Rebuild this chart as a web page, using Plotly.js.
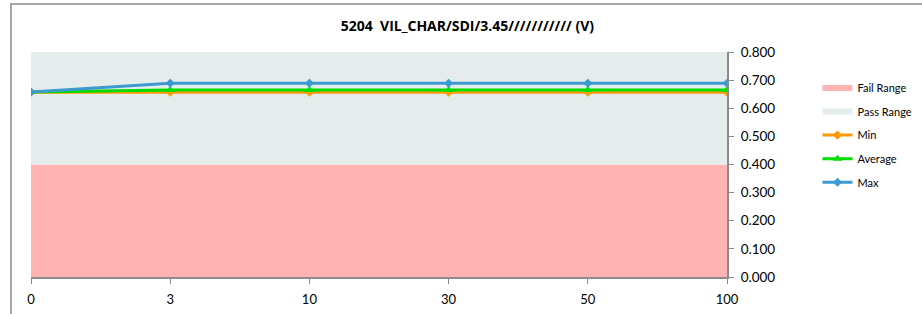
<!DOCTYPE html>
<html>
<head>
<meta charset="utf-8">
<script src="https://cdn.plot.ly/plotly-3.0.1.min.js"></script>
<style>
html,body{margin:0;padding:0;background:#fff;}
#frame{position:absolute;left:10px;top:3px;width:940px;height:340px;border-left:2px solid #A6A6A6;border-top:2px solid #A6A6A6;box-sizing:border-box;}
#chart{position:absolute;left:0;top:0;width:922px;height:314px;}
</style>
</head>
<body>
<div id="frame"></div>
<div id="chart"></div>
<script>
var categories = ['0', '3', '10', '30', '50', '100'];
var failRange = [0.4, 0.4, 0.4, 0.4, 0.4, 0.4];
var passRange = [0.4, 0.4, 0.4, 0.4, 0.4, 0.4];
var minVals = [0.657, 0.657, 0.657, 0.657, 0.657, 0.657];
var avgVals = [0.658, 0.665, 0.665, 0.665, 0.665, 0.665];
var maxVals = [0.658, 0.689, 0.689, 0.689, 0.689, 0.689];
var yTicks = [0, 0.1, 0.2, 0.3, 0.4, 0.5, 0.6, 0.7, 0.8];
var titleText = '5204  VIL_CHAR/SDI/3.45/////////// (V)';

var font = 'Lato, "Open Sans", "Liberation Sans", sans-serif';
var titleFont = '"Open Sans", Lato, sans-serif';

var traces = [
  {x: categories, y: failRange, name: 'Fail Range', type: 'scatter', mode: 'none',
   stackgroup: 'range', fillcolor: '#FFB3B3', legendgroup: 'a', hoverinfo: 'skip'},
  {x: categories, y: passRange, name: 'Pass Range', type: 'scatter', mode: 'none',
   stackgroup: 'range', fillcolor: '#E5ECEC', legendgroup: 'b', hoverinfo: 'skip'},
  {x: categories, y: minVals, name: 'Min', type: 'scatter', mode: 'lines+markers',
   line: {color: '#FF9900', width: 3}, marker: {symbol: 'diamond', size: 7, color: '#FF9900'}, legendgroup: 'c'},
  {x: categories, y: avgVals, name: 'Average', type: 'scatter', mode: 'lines+markers',
   line: {color: '#00DD00', width: 3}, marker: {symbol: 'triangle-up', size: 8, color: '#00DD00'}, legendgroup: 'd'},
  {x: categories, y: maxVals, name: 'Max', type: 'scatter', mode: 'lines+markers',
   line: {color: '#3C9AD0', width: 3}, marker: {symbol: 'diamond', size: 7, color: '#3C9AD0'}, legendgroup: 'e'}
];

var layout = {
  width: 922, height: 314,
  margin: {l: 31, r: 195, t: 52, b: 37, pad: 0, autoexpand: false},
  paper_bgcolor: 'rgba(0,0,0,0)',
  plot_bgcolor: 'rgba(0,0,0,0)',
  font: {family: font, size: 13, color: '#000'},
  title: {text: '<b>' + titleText + '</b>', font: {family: titleFont, size: 14, color: '#000'},
          x: 0.507, xanchor: 'center', y: 0.918, yanchor: 'middle'},
  showlegend: true,
  legend: {x: 1.13, xanchor: 'left', y: 0.905, yanchor: 'top', font: {family: font, size: 11, color: '#000'},
           traceorder: 'grouped', tracegroupgap: 4.6, bgcolor: 'rgba(0,0,0,0)', itemwidth: 30},
  xaxis: {type: 'category', range: [0, 5], showgrid: false, zeroline: false,
          showline: true, linecolor: '#8C8C8C', linewidth: 2,
          ticks: 'outside', ticklen: 5, tickcolor: '#8C8C8C', tickwidth: 1, ticklabelstandoff: 4,
          tickfont: {family: font, size: 13, color: '#000'}, fixedrange: true, automargin: false},
  yaxis: {side: 'right', range: [0, 0.8], tickvals: yTicks, tickformat: '.3f',
          showgrid: false, zeroline: false, showline: true, linecolor: '#8C8C8C', linewidth: 2,
          ticks: 'outside', ticklen: 5, tickcolor: '#8C8C8C', tickwidth: 1, ticklabelstandoff: 4,
          tickfont: {family: font, size: 13.5, color: '#000'}, fixedrange: true, automargin: false},
  shapes: [
    {type: 'line', xref: 'paper', yref: 'y', x0: 0, x1: 1, y0: 0.8, y1: 0.8,
     line: {color: '#FFD6D6', width: 1}, layer: 'below'}
  ]
};

Plotly.newPlot('chart', traces, layout, {displayModeBar: false, staticPlot: true});
</script>
</body>
</html>
